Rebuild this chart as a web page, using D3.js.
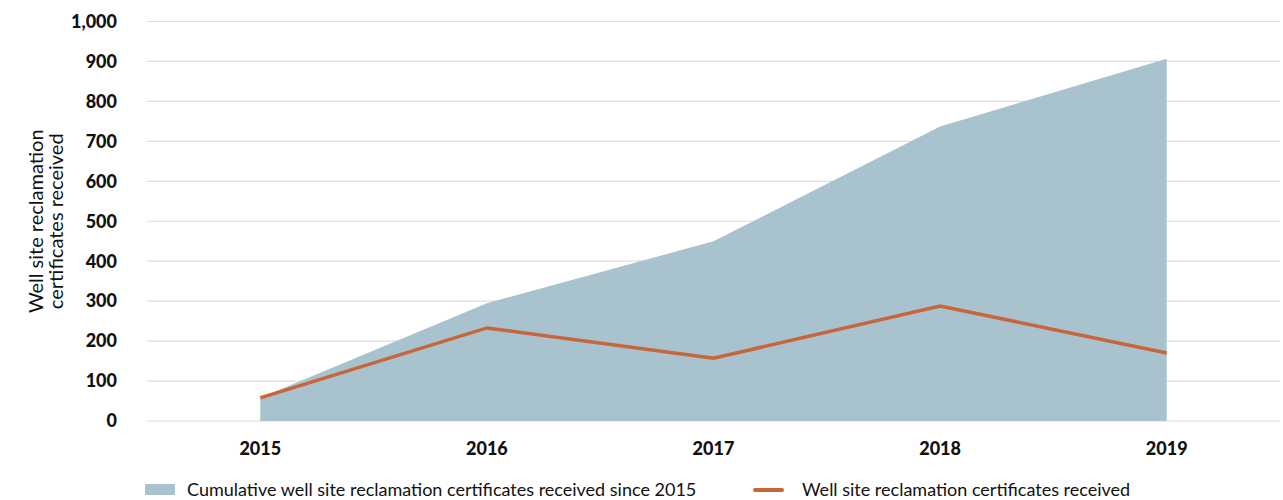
<!DOCTYPE html>
<html>
<head>
<meta charset="utf-8">
<script src="https://cdn.jsdelivr.net/npm/d3@7"></script>
<style>
  body { margin: 0; background: #fff; }
  svg { display: block; font-family: "Lato", "Open Sans", sans-serif; }
  .tick-label { font-weight: 900; font-size: 18px; fill: #111; }
  .axis-title { font-size: 20px; fill: #111; }
  .legend-text { font-size: 18px; fill: #111; }
</style>
</head>
<body>
<div id="chart"></div>
<script>
const years = ["2015", "2016", "2017", "2018", "2019"];
const cumulative = [58, 295, 450, 737, 907];
const annual = [58, 233, 157, 288, 170];
const yTicks = [0, 100, 200, 300, 400, 500, 600, 700, 800, 900, 1000];

(() => {
  const width = 1283, height = 500;
  const plotLeft = 147, plotRight = 1280, plotTop = 21.5, plotBottom = 421;

  const svg = d3.select("#chart").append("svg")
    .attr("width", width).attr("height", height);

  const x = d3.scalePoint().domain(years).range([plotLeft, plotRight]).padding(0.5);
  const y = d3.scaleLinear().domain([0, 1000]).range([plotBottom, plotTop]);

  // gridlines
  svg.append("g").selectAll("line").data(yTicks).enter().append("line")
    .attr("x1", plotLeft).attr("x2", plotRight)
    .attr("y1", d => y(d)).attr("y2", d => y(d))
    .attr("stroke", "#dcdcdc").attr("stroke-width", 1.2);

  // cumulative area
  const area = d3.area()
    .x((d, i) => x(years[i]))
    .y0(y(0))
    .y1(d => y(d));
  svg.append("path").datum(cumulative)
    .attr("d", area).attr("fill", "#a8c3cd");

  // annual line
  const line = d3.line().x((d, i) => x(years[i])).y(d => y(d));
  svg.append("path").datum(annual)
    .attr("d", line).attr("fill", "none")
    .attr("stroke", "#c8653a").attr("stroke-width", 3.5);

  // y tick labels
  const fmt = d3.format(",");
  svg.append("g").selectAll("text").data(yTicks).enter().append("text")
    .attr("class", "tick-label")
    .attr("x", 117).attr("y", d => y(d)).attr("dy", "0.35em")
    .attr("text-anchor", "end").text(d => fmt(d));

  // x tick labels
  svg.append("g").selectAll("text").data(years).enter().append("text")
    .attr("class", "tick-label")
    .attr("x", d => x(d)).attr("y", 449).attr("dy", "0.35em")
    .attr("text-anchor", "middle").text(d => d);

  // y axis title
  const yt = svg.append("text").attr("class", "axis-title")
    .attr("transform", `translate(43,${(plotTop + plotBottom) / 2}) rotate(-90)`)
    .attr("text-anchor", "middle");
  yt.append("tspan").attr("x", 0).attr("dy", 0).text("Well site reclamation");
  yt.append("tspan").attr("x", 0).attr("dy", "1.0em").text("certificates received");

  // legend
  const lg = svg.append("g");
  lg.append("rect").attr("x", 145).attr("y", 484).attr("width", 30).attr("height", 11)
    .attr("fill", "#a8c3cd");
  lg.append("text").attr("class", "legend-text").attr("x", 187).attr("y", 490)
    .attr("dy", "0.35em").text("Cumulative well site reclamation certificates received since 2015");
  lg.append("line").attr("x1", 755).attr("x2", 782).attr("y1", 490).attr("y2", 490)
    .attr("stroke", "#c8653a").attr("stroke-width", 4).attr("stroke-linecap", "round");
  lg.append("text").attr("class", "legend-text").attr("x", 802).attr("y", 490)
    .attr("dy", "0.35em").text("Well site reclamation certificates received");
})();
</script>
</body>
</html>
